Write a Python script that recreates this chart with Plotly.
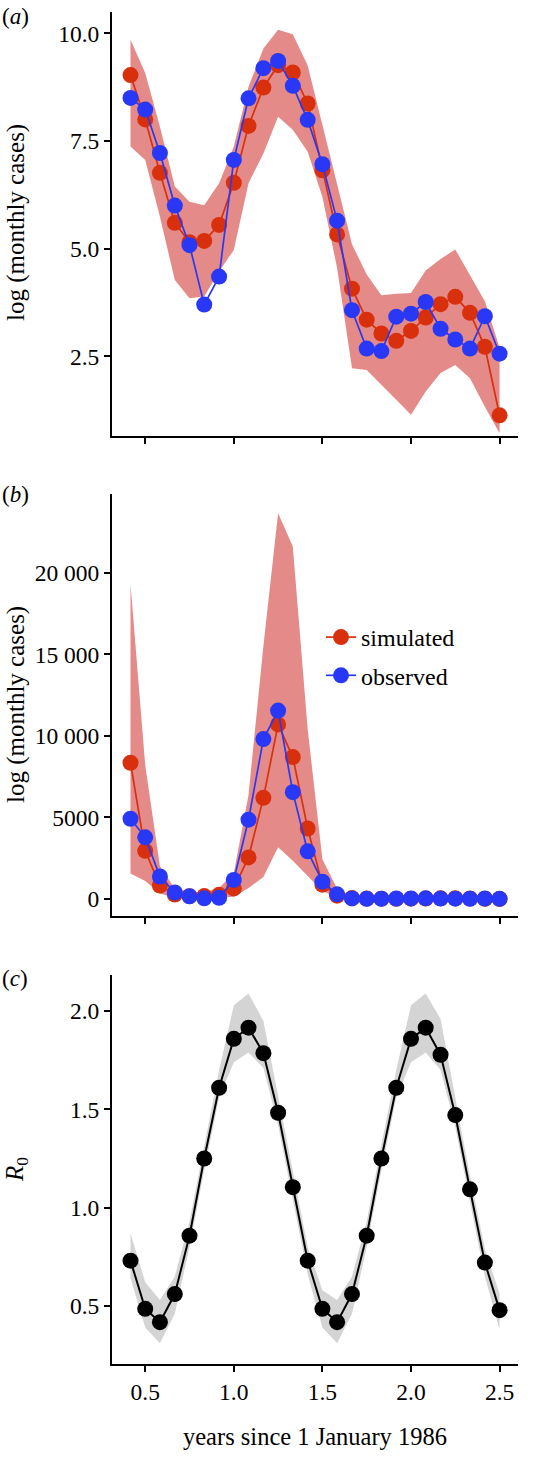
import plotly.graph_objects as go

# ---------------- data ----------------
years = [0.417, 0.5, 0.583, 0.667, 0.75, 0.833, 0.917, 1.0, 1.083, 1.167, 1.25, 1.333, 1.417,
         1.5, 1.583, 1.667, 1.75, 1.833, 1.917, 2.0, 2.083, 2.167, 2.25, 2.333, 2.417, 2.5]

# panel (a): log monthly cases
sim_log = [9.03, 8.00, 6.76, 5.60, 5.15, 5.18, 5.55, 6.53, 7.85, 8.74, 9.26, 9.09, 8.37,
           6.82, 5.33, 4.07, 3.35, 3.03, 2.86, 3.09, 3.40, 3.71, 3.88, 3.51, 2.72, 1.13]
obs_log = [8.50, 8.23, 7.22, 6.00, 5.08, 3.70, 4.35, 7.06, 8.49, 9.19, 9.36, 8.78, 7.99,
           6.96, 5.65, 3.57, 2.68, 2.62, 3.42, 3.49, 3.76, 3.14, 2.89, 2.68, 3.43, 2.56]
upper_log = [9.85, 9.08, 7.83, 6.44, 6.09, 6.01, 6.52, 7.37, 8.76, 9.65, 10.08, 9.98, 9.25,
             7.85, 6.45, 5.10, 4.40, 3.92, 3.95, 3.97, 4.49, 4.76, 4.98, 4.38, 3.78, 2.70]
lower_log = [7.37, 7.06, 5.74, 4.27, 3.85, 3.89, 4.47, 4.97, 6.52, 7.21, 8.06, 7.76, 7.25,
             6.20, 4.55, 2.22, 2.18, 1.84, 1.49, 1.14, 1.68, 2.11, 2.30, 1.99, 1.33, 0.71]

# panel (b): monthly cases
sim_cases = [8350, 2950, 820, 270, 172, 178, 257, 650, 2550, 6200, 10700, 8700, 4320,
             880, 206, 59, 28, 21, 17, 22, 30, 41, 48, 33, 15, 3]
obs_cases = [4920, 3780, 1380, 400, 161, 40, 77, 1170, 4860, 9800, 11550, 6550, 2920,
             1060, 284, 35, 15, 14, 31, 33, 43, 23, 18, 15, 31, 13]
upper_cases = [19300, 8200, 2000, 626, 441, 408, 679, 1590, 6380, 15500, 23650, 21600, 10400,
               2440, 630, 164, 81, 50, 51, 53, 90, 117, 145, 81, 45, 13]
lower_cases = [1570, 1100, 330, 72, 47, 49, 87, 144, 680, 1350, 3165, 2350, 1410,
               490, 95, 9, 9, 6, 4, 3, 5, 8, 10, 7, 4, 2]

# panel (c): R0
r0 = [0.73, 0.485, 0.417, 0.56, 0.857, 1.25, 1.61, 1.859, 1.916, 1.786, 1.483, 1.104, 0.73,
      0.485, 0.417, 0.56, 0.857, 1.25, 1.61, 1.859, 1.916, 1.778, 1.471, 1.093, 0.72, 0.478]
r0_upper = [0.87, 0.62, 0.53, 0.65, 0.93, 1.32, 1.70, 2.03, 2.09, 1.95, 1.57, 1.17, 0.80,
            0.58, 0.53, 0.65, 0.93, 1.32, 1.70, 2.03, 2.09, 1.96, 1.56, 1.16, 0.79, 0.56]
r0_lower = [0.64, 0.39, 0.31, 0.46, 0.80, 1.19, 1.56, 1.74, 1.79, 1.71, 1.42, 1.04, 0.66,
            0.39, 0.31, 0.46, 0.80, 1.19, 1.56, 1.74, 1.79, 1.70, 1.41, 1.03, 0.65, 0.38]

x_ticks = [0.5, 1.0, 1.5, 2.0, 2.5]
x_ticktext = ["0.5", "1.0", "1.5", "2.0", "2.5"]
a_ticks = [2.5, 5.0, 7.5, 10.0]
b_ticks = [0, 5000, 10000, 15000, 20000]
b_ticktext = ["0", "5000", "10 000", "15 000", "20 000"]
c_ticks = [0.5, 1.0, 1.5, 2.0]

RED = "#D8300C"
BLUE = "#2838F6"
PINK = "rgb(228,139,137)"
GREY = "rgb(212,212,212)"
FONT = "Liberation Serif"

# layout geometry (pixels)
L, R, T, B = 112, 518, 12, 1364
W = R - L
H = B - T

fig = go.Figure()


def ribbon(xa, ya, lo, hi, color):
    fig.add_trace(go.Scatter(x=years + years[::-1], y=hi + lo[::-1], fill="toself",
                             fillcolor=color, line=dict(width=0), mode="lines",
                             hoverinfo="skip", showlegend=False, xaxis=xa, yaxis=ya))


def series(xa, ya, y, color, name, show, lw=1.7):
    fig.add_trace(go.Scatter(x=years, y=y, mode="lines+markers", name=name,
                             line=dict(color=color, width=lw),
                             marker=dict(color=color, size=16, line=dict(width=0)),
                             showlegend=show, legendgroup=name, xaxis=xa, yaxis=ya))


# panel a
ribbon("x", "y", lower_log, upper_log, PINK)
series("x", "y", sim_log, RED, "simulated", False)
series("x", "y", obs_log, BLUE, "observed", False)
# panel b
ribbon("x2", "y2", lower_cases, upper_cases, PINK)
series("x2", "y2", sim_cases, RED, "simulated", True)
series("x2", "y2", obs_cases, BLUE, "observed", True)
# panel c
ribbon("x3", "y3", r0_lower, r0_upper, GREY)
series("x3", "y3", r0, "black", "R0", False, lw=2)

axis_common = dict(showline=True, linecolor="black", linewidth=2, ticks="outside",
                   ticklen=6, tickwidth=1.6, tickcolor="black", showgrid=False,
                   zeroline=False, tickfont=dict(family=FONT, size=23.5, color="black"))


def py2paper(py):
    return (B - py) / H


def px2paper(px):
    return (px - L) / W


xr = [0.3125, 2.604]
fig.update_layout(
    width=548, height=1471,
    margin=dict(l=L, r=548 - R, t=T, b=1471 - B),
    paper_bgcolor="white", plot_bgcolor="white",
    font=dict(family=FONT, color="black"),
    xaxis=dict(anchor="y", range=xr, tickvals=x_ticks, showticklabels=False, **axis_common),
    xaxis2=dict(anchor="y2", range=xr, tickvals=x_ticks, showticklabels=False, **axis_common),
    xaxis3=dict(anchor="y3", range=xr, tickvals=x_ticks, ticktext=x_ticktext, **axis_common),
    yaxis=dict(anchor="x", domain=[py2paper(436), 1.0], range=[0.649, 10.495], tickvals=a_ticks,
               tickformat=".1f", **axis_common),
    yaxis2=dict(anchor="x2", domain=[py2paper(916), py2paper(494)], range=[-1042, 24824],
                tickvals=b_ticks, ticktext=b_ticktext, **axis_common),
    yaxis3=dict(anchor="x3", domain=[0.0, py2paper(975)], range=[0.204, 2.184], tickvals=c_ticks,
                tickformat=".1f", **axis_common),
    legend=dict(x=px2paper(321), y=py2paper(615), xanchor="left", yanchor="top",
                bgcolor="rgba(0,0,0,0)",
                font=dict(family=FONT, size=24, color="black"), itemwidth=30,
                tracegroupgap=4, borderwidth=0),
    showlegend=True,
)

ann = []
for lab, py in [("a", 16), ("b", 494), ("c", 978)]:
    ann.append(dict(text="(<i>%s</i>)" % lab, x=px2paper(0), y=py2paper(py), xref="paper",
                    yref="paper", xanchor="left", yanchor="middle", showarrow=False,
                    font=dict(family=FONT, size=23, color="black")))
for txt, py in [("log (monthly cases)", 223), ("log (monthly cases)", 705),
                ("<i>R</i><sub>0</sub>", 1170)]:
    ann.append(dict(text=txt, x=px2paper(16), y=py2paper(py), xref="paper", yref="paper",
                    xanchor="center", yanchor="middle", textangle=-90, showarrow=False,
                    font=dict(family=FONT, size=25, color="black")))
ann.append(dict(text="years since 1 January 1986", x=0.5, y=py2paper(1436), xref="paper",
                yref="paper", xanchor="center", yanchor="middle", showarrow=False,
                font=dict(family=FONT, size=24.5, color="black")))
fig.update_layout(annotations=ann)

fig.write_html("out.html", config={"displayModeBar": False},
               post_script="document.body.style.margin='0px';")
